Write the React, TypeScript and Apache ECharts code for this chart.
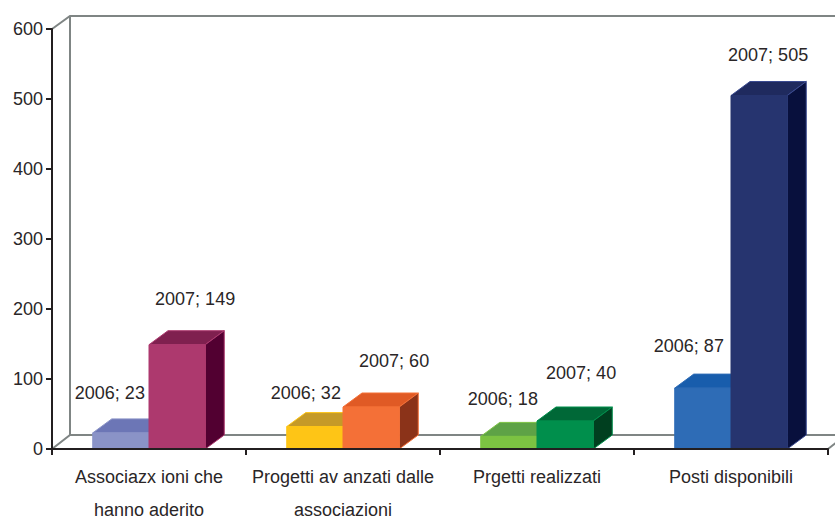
import React, { useEffect, useRef } from "react";
import * as echarts from "echarts";

const categories = [
  "Associazx ioni che\nhanno aderito",
  "Progetti av anzati dalle\nassociazioni",
  "Prgetti realizzati",
  "Posti disponibili",
];
const years = ["2006", "2007"];
const values2006 = [23, 32, 18, 87];
const values2007 = [149, 60, 40, 505];
const yTicks = { min: 0, max: 600, interval: 100 };

const palette2006 = [
  { front: "#8a93c7", top: "#6c76b6", side: "#6c76b6", edge: "#8a93c7" },
  { front: "#fec516", top: "#c59a28", side: "#c59a28", edge: "#fec516" },
  { front: "#7cc242", top: "#5ea246", side: "#5ea246", edge: "#7cc242" },
  { front: "#2e6cb6", top: "#185dac", side: "#185dac", edge: "#2e6cb6" },
];
const palette2007 = [
  { front: "#ad396e", top: "#7f204f", side: "#520031", edge: "#ad396e" },
  { front: "#f47037", top: "#e05a25", side: "#8b3319", edge: "#f47037" },
  { front: "#008f4c", top: "#006837", side: "#003f1f", edge: "#008f4c" },
  { front: "#26346f", top: "#1f2a5e", side: "#08103d", edge: "#3a4a90" },
];
// label offsets from the centre of the bar's front top edge (dx, dy)
const labelOffset2006 = [[-11, -40], [-9, -34], [-6, -37], [-14, -42]];
const labelOffset2007 = [[18, -46], [23, -46], [16, -48], [9, -41]];

const DX = 19;
const DY = -14;
const FONT = '"Liberation Sans", Arial, sans-serif';
const FONT_SIZE = 18;
const TEXT = "#2a2627";

function poly(points: number[][], fill: string, stroke: string) {
  return {
    type: "polygon",
    shape: { points },
    style: { fill, stroke, lineWidth: 1 },
  };
}

function makeBars(seriesIdx: number, palette: any[], offsets: number[][]) {
  return (_params: any, api: any) => {
    const i = api.value(0);
    const [cx, y1] = api.coord([i, api.value(1)]);
    const [, y0] = api.coord([i, 0]);
    const w = api.size([1, 0])[0] * 0.29;
    const x0 = seriesIdx === 0 ? cx - w : cx;
    const x1 = x0 + w;
    const c = palette[i];
    return {
      type: "group",
      children: [
        poly([[x0, y1], [x1, y1], [x1 + DX, y1 + DY], [x0 + DX, y1 + DY]], c.top, c.edge),
        poly([[x1, y1], [x1 + DX, y1 + DY], [x1 + DX, y0 + DY], [x1, y0]], c.side, c.edge),
        poly([[x0, y1], [x1, y1], [x1, y0], [x0, y0]], c.front, c.front),
        {
          type: "text",
          style: {
            text: `${years[seriesIdx]}; ${api.value(1)}`,
            x: (x0 + x1) / 2 + offsets[i][0],
            y: y1 + offsets[i][1],
            align: "center",
            verticalAlign: "middle",
            fontSize: FONT_SIZE,
            fontFamily: FONT,
            fill: TEXT,
          },
        },
      ],
    };
  };
}

function renderWalls(params: any, api: any) {
  const cs = params.coordSys;
  const [, y0] = api.coord([0, 0]);
  const [, y6] = api.coord([0, 600]);
  const left = cs.x;
  const right = cs.x + cs.width + 40;
  const stroke = { stroke: "#7f8584", lineWidth: 2, fill: "none" };
  const line = (points: number[][]) => ({ type: "polyline", shape: { points }, style: stroke });
  return {
    type: "group",
    children: [
      line([[left, y6], [left + 18, y6 - 13], [right, y6 - 13]]),
      line([[left + 18, y6 - 13], [left + 18, y0 - 14]]),
      line([[left, y0], [left + 18, y0 - 14], [right, y0 - 14]]),
      line([[cs.x + cs.width, y0], [cs.x + cs.width + 18, y0 - 14]]),
    ],
  };
}

export default function App() {
  const ref = useRef<HTMLDivElement>(null);
  useEffect(() => {
    document.body.style.margin = "0";
    const chart = echarts.init(ref.current!, undefined, { renderer: "svg" });
    chart.setOption({
      animation: false,
      backgroundColor: "#ffffff",
      grid: { left: 52, top: 29, width: 776, height: 420, outerBoundsMode: "none" },
      xAxis: {
        type: "category",
        data: categories,
        z: 5,
        axisLine: { lineStyle: { color: "#231f20", width: 2 } },
        axisTick: { show: true, length: 6, lineStyle: { color: "#231f20", width: 2 } },
        axisLabel: {
          color: TEXT,
          fontSize: FONT_SIZE,
          fontFamily: FONT,
          lineHeight: 33,
          margin: 11,
          interval: 0,
        },
      },
      yAxis: {
        type: "value",
        min: yTicks.min,
        max: yTicks.max,
        interval: yTicks.interval,
        z: 5,
        splitLine: { show: false },
        axisLine: { show: true, lineStyle: { color: "#231f20", width: 2 } },
        axisTick: { show: true, length: 6, lineStyle: { color: "#231f20", width: 2 } },
        axisLabel: { color: TEXT, fontSize: FONT_SIZE, fontFamily: FONT, margin: 9 },
      },
      series: [
        {
          type: "custom",
          name: "walls",
          silent: true,
          clip: false,
          z: 1,
          data: [[0, 0]],
          renderItem: renderWalls,
        },
        {
          type: "custom",
          name: years[0],
          clip: false,
          z: 2,
          data: values2006.map((v, i) => [i, v]),
          encode: { x: 0, y: 1 },
          renderItem: makeBars(0, palette2006, labelOffset2006),
        },
        {
          type: "custom",
          name: years[1],
          clip: false,
          z: 3,
          data: values2007.map((v, i) => [i, v]),
          encode: { x: 0, y: 1 },
          renderItem: makeBars(1, palette2007, labelOffset2007),
        },
      ],
    });
    return () => chart.dispose();
  }, []);
  return <div ref={ref} style={{ width: 835, height: 517 }} />;
}
